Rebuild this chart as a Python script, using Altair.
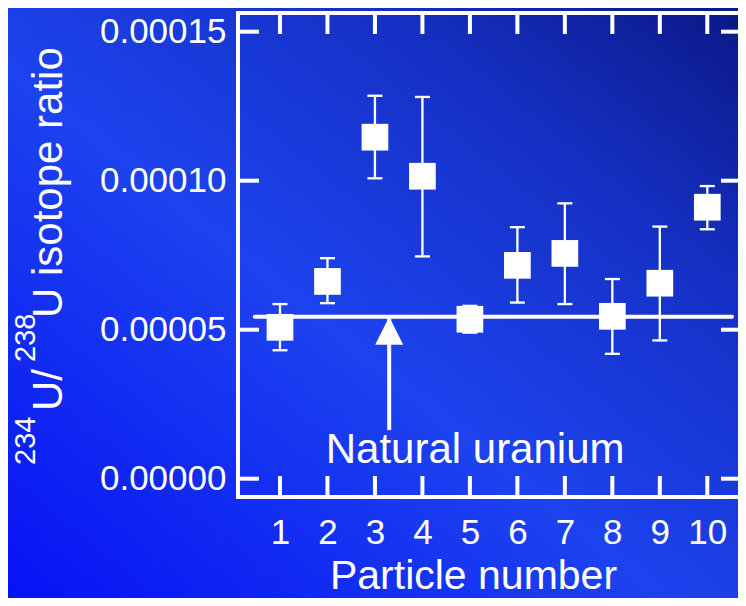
import altair as alt
import pandas as pd

# ---- data ----
particles = [1, 2, 3, 4, 5, 6, 7, 8, 9, 10]
ratio = [5.08e-5, 6.62e-5, 11.46e-5, 10.15e-5, 5.35e-5, 7.16e-5, 7.56e-5, 5.45e-5, 6.56e-5, 9.11e-5]
upper = [5.86e-5, 7.40e-5, 12.85e-5, 12.81e-5, 5.80e-5, 8.44e-5, 9.24e-5, 6.70e-5, 8.46e-5, 9.82e-5]
lower = [4.31e-5, 5.89e-5, 10.08e-5, 7.46e-5, 4.90e-5, 5.91e-5, 5.86e-5, 4.19e-5, 4.64e-5, 8.37e-5]

x_ticks = [1, 2, 3, 4, 5, 6, 7, 8, 9, 10]
y_ticks = [0.0, 0.00005, 0.0001, 0.00015]

natural_ratio = [5.436e-5]
natural_span = [0.47, 10.52]
arrow_x = [3.30]
arrow_bottom = [1.63e-5]
annot_text = ["Natural uranium"]
annot_x = [5.11]
annot_y = [5.37e-6]

W, H = 500, 484
PAD_L, PAD_T, PAD_R, PAD_B = 230, 5, 0, 101
FONT = "Liberation Sans"
WHITE = "#ffffff"

xscale = alt.Scale(domain=[0.1158, 10.6466], nice=False, zero=False)
yscale = alt.Scale(domain=[-6.14e-6, 1.5627e-4], nice=False, zero=False)

xaxis = alt.Axis(values=x_ticks, title="Particle number", grid=False, domain=False, ticks=False,
                 tickSize=0, labelFontSize=35, labelColor=WHITE, labelFont=FONT, labelPadding=18,
                 labelOverlap=False, labelFlush=False, titleFontSize=41, titleFont=FONT,
                 titleFontWeight="normal", titleColor=WHITE, titleX=235, titleY=91,
                 titleBaseline="alphabetic", titleAlign="center", zindex=1)
yaxis = alt.Axis(values=y_ticks, format=".5f", title=None, grid=False, domain=False, ticks=False,
                 tickSize=0, labelFontSize=35, labelColor=WHITE, labelFont=FONT, labelPadding=12,
                 labelOverlap=False, labelFlush=False, zindex=1)


def X(f):
    return alt.X(f, type="quantitative", scale=xscale, axis=xaxis)


def Y(f):
    return alt.Y(f, type="quantitative", scale=yscale, axis=yaxis)


one = alt.Data(values=[{"k": 0}])

df = pd.DataFrame({"p": particles, "r": ratio, "hi": upper, "lo": lower})
xt = pd.DataFrame({"t": x_ticks})
yt = pd.DataFrame({"t": y_ticks})
nat = pd.DataFrame({"x1": [natural_span[0]], "x2": [natural_span[1]], "y": natural_ratio})
arr = pd.DataFrame({"x": arrow_x, "y": natural_ratio, "y2": arrow_bottom})
ann = pd.DataFrame({"x": annot_x, "y": annot_y, "t": annot_text})

# background gradient
bg = alt.Chart(one).mark_rect(
    fill=alt.LinearGradient(
        gradient="linear",
        stops=[alt.GradientStop(color="#0612f5", offset=0),
               alt.GradientStop(color="#1d43ef", offset=0.45),
               alt.GradientStop(color="#1530c4", offset=0.75),
               alt.GradientStop(color="#0b1886", offset=1)],
        x1=0, y1=1, x2=1, y2=0),
    strokeWidth=0,
).encode(x=alt.value(-PAD_L), x2=alt.value(W + PAD_R), y=alt.value(-PAD_T), y2=alt.value(H + PAD_B))

# frame (top, left, bottom)
frame_top = alt.Chart(one).mark_rule(color=WHITE, strokeWidth=4, strokeCap="square").encode(
    x=alt.value(0), x2=alt.value(W + 4), y=alt.value(0))
frame_left = alt.Chart(one).mark_rule(color=WHITE, strokeWidth=4, strokeCap="square").encode(
    x=alt.value(0), y=alt.value(0), y2=alt.value(H))
frame_bottom = alt.Chart(one).mark_rule(color=WHITE, strokeWidth=4, strokeCap="square").encode(
    x=alt.value(0), x2=alt.value(W + 4), y=alt.value(H))

# inward ticks
tick_bottom = alt.Chart(xt).mark_rule(color=WHITE, strokeWidth=4).encode(
    x=X("t"), y=alt.value(H), y2=alt.value(H - 21))
tick_top = alt.Chart(xt).mark_rule(color=WHITE, strokeWidth=4).encode(
    x=X("t"), y=alt.value(0), y2=alt.value(21))
tick_left = alt.Chart(yt).mark_rule(color=WHITE, strokeWidth=4).encode(
    y=Y("t"), x=alt.value(0), x2=alt.value(21))
tick_right = alt.Chart(yt).mark_rule(color=WHITE, strokeWidth=4).encode(
    y=Y("t"), x=alt.value(W - 17), x2=alt.value(W + 4))

# natural uranium line
nat_line = alt.Chart(nat).mark_rule(color=WHITE, strokeWidth=4, strokeCap="round").encode(
    x=X("x1"), x2="x2", y=Y("y"))

# error bars
err = alt.Chart(df).mark_rule(color=WHITE, strokeWidth=2.3).encode(x=X("p"), y=Y("lo"), y2="hi")
cap_hi = alt.Chart(df).mark_tick(color=WHITE, orient="horizontal", size=15, thickness=2.3, opacity=1).encode(
    x=X("p"), y=Y("hi"))
cap_lo = alt.Chart(df).mark_tick(color=WHITE, orient="horizontal", size=15, thickness=2.3, opacity=1).encode(
    x=X("p"), y=Y("lo"))
squares = alt.Chart(df).mark_square(color=WHITE, size=713, opacity=1, filled=True, strokeWidth=0).encode(
    x=X("p"), y=Y("r"))

# arrow
shaft = alt.Chart(arr).mark_rule(color=WHITE, strokeWidth=4).encode(x=X("x"), y=Y("y"), y2="y2")
head = alt.Chart(arr).mark_point(shape="M0,0L-1,2L1,2Z", size=784, filled=True, fill=WHITE,
                                 opacity=1, strokeWidth=0).encode(x=X("x"), y=Y("y"))

annot = alt.Chart(ann).mark_text(color=WHITE, font=FONT, fontSize=42, align="center",
                                 baseline="alphabetic").encode(x=X("x"), y=Y("y"), text="t:N")


# y-axis title with superscripts
def piece(txt, size, px, py):
    return alt.Chart(one).mark_text(text=txt, color=WHITE, font=FONT, fontSize=size, angle=270,
                                    align="left", baseline="alphabetic").encode(
        x=alt.value(px), y=alt.value(py))


yt1 = piece("234", 29, -203, 452)
yt2 = piece("U/", 42, -176, 398)
yt3 = piece("238", 29, -203, 349)
yt4 = piece("U isotope ratio", 42, -176, 305)

chart = alt.layer(
    bg, frame_top, frame_left, frame_bottom, tick_bottom, tick_top, tick_left, tick_right,
    nat_line, err, cap_hi, cap_lo, squares, shaft, head, annot, yt1, yt2, yt3, yt4,
).properties(
    width=W, height=H,
    autosize=alt.AutoSizeParams(type="none"),
    padding={"left": PAD_L, "top": PAD_T, "right": PAD_R, "bottom": PAD_B},
    background="#1535d8",
).configure_view(stroke=None)

chart.save("out.html", embed_options={"renderer": "svg", "actions": False})
